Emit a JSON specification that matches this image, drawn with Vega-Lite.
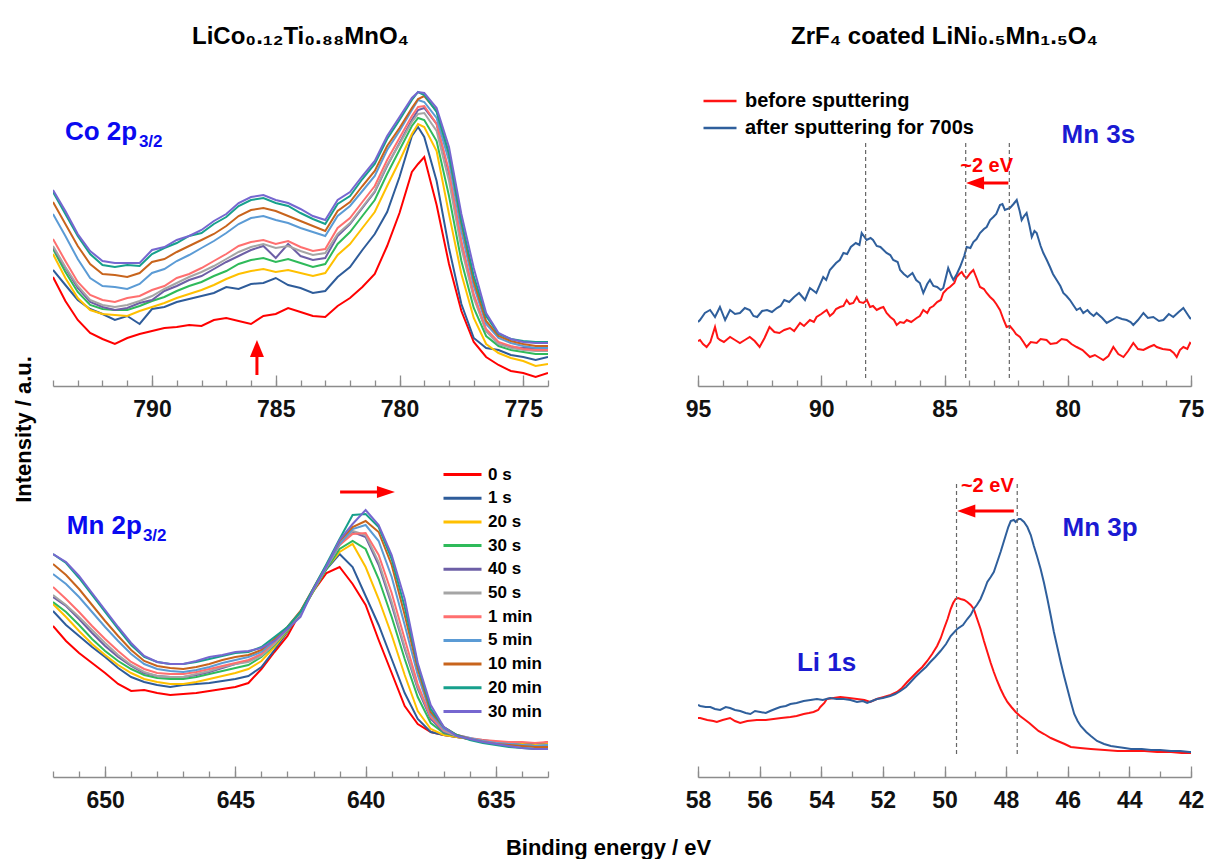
{
"$schema":"https://vega.github.io/schema/vega-lite/v6.json",
"padding":{"left":13,"top":25,"right":0,"bottom":0},
"config":{"font":"Liberation Sans","view":{"stroke":null},
"axis":{"grid":false,"domainColor":"#8c8c8c","domainWidth":1.6,"tickColor":"#8c8c8c","tickWidth":1.3,"labelFont":"Liberation Sans","labelFontSize":23,"labelFontWeight":"bold","labelColor":"#111","title":null,"labelOverlap":false,"labelFlush":false},
"legend":{"labelFont":"Liberation Sans","labelLimit":400},
"title":{"font":"Liberation Sans","fontWeight":"bold","color":"#000","fontSize":22}},
"datasets":{
"co":[
{"s":"0 s","e":794,"v":109},{"s":"0 s","e":793.5,"v":85},{"s":"0 s","e":793,"v":66},{"s":"0 s","e":792.5,"v":53},{"s":"0 s","e":792,"v":47},{"s":"0 s","e":791.5,"v":42},{"s":"0 s","e":791,"v":48},{"s":"0 s","e":790.5,"v":52},{"s":"0 s","e":790,"v":55},{"s":"0 s","e":789.5,"v":58},{"s":"0 s","e":789,"v":59},{"s":"0 s","e":788.5,"v":61},{"s":"0 s","e":788,"v":60},{"s":"0 s","e":787.5,"v":66},{"s":"0 s","e":787,"v":68},{"s":"0 s","e":786.5,"v":65},{"s":"0 s","e":786,"v":62},{"s":"0 s","e":785.5,"v":70},{"s":"0 s","e":785,"v":72},{"s":"0 s","e":784.5,"v":78},{"s":"0 s","e":784,"v":74},{"s":"0 s","e":783.5,"v":70},{"s":"0 s","e":783,"v":69},{"s":"0 s","e":782.5,"v":80},{"s":"0 s","e":782,"v":88},{"s":"0 s","e":781.5,"v":99},{"s":"0 s","e":781,"v":112},{"s":"0 s","e":780.5,"v":140},{"s":"0 s","e":780,"v":173},{"s":"0 s","e":779.5,"v":214},{"s":"0 s","e":779.25,"v":222},{"s":"0 s","e":779,"v":229},{"s":"0 s","e":778.5,"v":181},{"s":"0 s","e":778,"v":122},{"s":"0 s","e":777.5,"v":75},{"s":"0 s","e":777,"v":44},{"s":"0 s","e":776.5,"v":29},{"s":"0 s","e":776,"v":21},{"s":"0 s","e":775.5,"v":15},{"s":"0 s","e":775,"v":13},{"s":"0 s","e":774.5,"v":9},{"s":"0 s","e":774,"v":13},
{"s":"1 s","e":794,"v":116},{"s":"1 s","e":793.5,"v":101},{"s":"1 s","e":793,"v":86},{"s":"1 s","e":792.5,"v":77},{"s":"1 s","e":792,"v":72},{"s":"1 s","e":791.5,"v":66},{"s":"1 s","e":791,"v":70},{"s":"1 s","e":790.5,"v":62},{"s":"1 s","e":790,"v":77},{"s":"1 s","e":789.5,"v":79},{"s":"1 s","e":789,"v":84},{"s":"1 s","e":788.5,"v":87},{"s":"1 s","e":788,"v":90},{"s":"1 s","e":787.5,"v":93},{"s":"1 s","e":787,"v":99},{"s":"1 s","e":786.5,"v":97},{"s":"1 s","e":786,"v":102},{"s":"1 s","e":785.5,"v":103},{"s":"1 s","e":785,"v":108},{"s":"1 s","e":784.5,"v":101},{"s":"1 s","e":784,"v":98},{"s":"1 s","e":783.5,"v":93},{"s":"1 s","e":783,"v":95},{"s":"1 s","e":782.5,"v":109},{"s":"1 s","e":782,"v":119},{"s":"1 s","e":781.5,"v":136},{"s":"1 s","e":781,"v":152},{"s":"1 s","e":780.5,"v":174},{"s":"1 s","e":780,"v":209},{"s":"1 s","e":779.5,"v":250},{"s":"1 s","e":779.25,"v":259},{"s":"1 s","e":779,"v":249},{"s":"1 s","e":778.5,"v":205},{"s":"1 s","e":778,"v":138},{"s":"1 s","e":777.5,"v":82},{"s":"1 s","e":777,"v":48},{"s":"1 s","e":776.5,"v":38},{"s":"1 s","e":776,"v":36},{"s":"1 s","e":775.5,"v":31},{"s":"1 s","e":775,"v":29},{"s":"1 s","e":774.5,"v":26},{"s":"1 s","e":774,"v":29},
{"s":"20 s","e":794,"v":132},{"s":"20 s","e":793.5,"v":108},{"s":"20 s","e":793,"v":88},{"s":"20 s","e":792.5,"v":76},{"s":"20 s","e":792,"v":72},{"s":"20 s","e":791.5,"v":71},{"s":"20 s","e":791,"v":70},{"s":"20 s","e":790.5,"v":75},{"s":"20 s","e":790,"v":79},{"s":"20 s","e":789.5,"v":83},{"s":"20 s","e":789,"v":88},{"s":"20 s","e":788.5,"v":92},{"s":"20 s","e":788,"v":96},{"s":"20 s","e":787.5,"v":101},{"s":"20 s","e":787,"v":107},{"s":"20 s","e":786.5,"v":112},{"s":"20 s","e":786,"v":115},{"s":"20 s","e":785.5,"v":117},{"s":"20 s","e":785,"v":114},{"s":"20 s","e":784.5,"v":116},{"s":"20 s","e":784,"v":113},{"s":"20 s","e":783.5,"v":110},{"s":"20 s","e":783,"v":113},{"s":"20 s","e":782.5,"v":131},{"s":"20 s","e":782,"v":142},{"s":"20 s","e":781.5,"v":158},{"s":"20 s","e":781,"v":174},{"s":"20 s","e":780.5,"v":200},{"s":"20 s","e":780,"v":225},{"s":"20 s","e":779.5,"v":252},{"s":"20 s","e":779.25,"v":262},{"s":"20 s","e":779,"v":259},{"s":"20 s","e":778.5,"v":235},{"s":"20 s","e":778,"v":172},{"s":"20 s","e":777.5,"v":112},{"s":"20 s","e":777,"v":68},{"s":"20 s","e":776.5,"v":42},{"s":"20 s","e":776,"v":33},{"s":"20 s","e":775.5,"v":28},{"s":"20 s","e":775,"v":25},{"s":"20 s","e":774.5,"v":20},{"s":"20 s","e":774,"v":22},
{"s":"30 s","e":794,"v":137},{"s":"30 s","e":793.5,"v":114},{"s":"30 s","e":793,"v":94},{"s":"30 s","e":792.5,"v":81},{"s":"30 s","e":792,"v":77},{"s":"30 s","e":791.5,"v":76},{"s":"30 s","e":791,"v":76},{"s":"30 s","e":790.5,"v":80},{"s":"30 s","e":790,"v":85},{"s":"30 s","e":789.5,"v":89},{"s":"30 s","e":789,"v":95},{"s":"30 s","e":788.5,"v":100},{"s":"30 s","e":788,"v":104},{"s":"30 s","e":787.5,"v":110},{"s":"30 s","e":787,"v":115},{"s":"30 s","e":786.5,"v":122},{"s":"30 s","e":786,"v":126},{"s":"30 s","e":785.5,"v":128},{"s":"30 s","e":785,"v":124},{"s":"30 s","e":784.5,"v":127},{"s":"30 s","e":784,"v":123},{"s":"30 s","e":783.5,"v":119},{"s":"30 s","e":783,"v":122},{"s":"30 s","e":782.5,"v":142},{"s":"30 s","e":782,"v":154},{"s":"30 s","e":781.5,"v":170},{"s":"30 s","e":781,"v":186},{"s":"30 s","e":780.5,"v":212},{"s":"30 s","e":780,"v":236},{"s":"30 s","e":779.5,"v":260},{"s":"30 s","e":779.25,"v":268},{"s":"30 s","e":779,"v":266},{"s":"30 s","e":778.5,"v":245},{"s":"30 s","e":778,"v":190},{"s":"30 s","e":777.5,"v":125},{"s":"30 s","e":777,"v":78},{"s":"30 s","e":776.5,"v":50},{"s":"30 s","e":776,"v":40},{"s":"30 s","e":775.5,"v":36},{"s":"30 s","e":775,"v":34},{"s":"30 s","e":774.5,"v":32},{"s":"30 s","e":774,"v":32},
{"s":"40 s","e":794,"v":139},{"s":"40 s","e":793.5,"v":118},{"s":"40 s","e":793,"v":98},{"s":"40 s","e":792.5,"v":84},{"s":"40 s","e":792,"v":79},{"s":"40 s","e":791.5,"v":76},{"s":"40 s","e":791,"v":78},{"s":"40 s","e":790.5,"v":83},{"s":"40 s","e":790,"v":86},{"s":"40 s","e":789.5,"v":95},{"s":"40 s","e":789,"v":100},{"s":"40 s","e":788.5,"v":106},{"s":"40 s","e":788,"v":110},{"s":"40 s","e":787.5,"v":117},{"s":"40 s","e":787,"v":124},{"s":"40 s","e":786.5,"v":130},{"s":"40 s","e":786,"v":136},{"s":"40 s","e":785.5,"v":140},{"s":"40 s","e":785,"v":128},{"s":"40 s","e":784.5,"v":142},{"s":"40 s","e":784,"v":130},{"s":"40 s","e":783.5,"v":126},{"s":"40 s","e":783,"v":128},{"s":"40 s","e":782.5,"v":150},{"s":"40 s","e":782,"v":162},{"s":"40 s","e":781.5,"v":178},{"s":"40 s","e":781,"v":194},{"s":"40 s","e":780.5,"v":220},{"s":"40 s","e":780,"v":243},{"s":"40 s","e":779.5,"v":266},{"s":"40 s","e":779.25,"v":276},{"s":"40 s","e":779,"v":278},{"s":"40 s","e":778.5,"v":262},{"s":"40 s","e":778,"v":212},{"s":"40 s","e":777.5,"v":142},{"s":"40 s","e":777,"v":90},{"s":"40 s","e":776.5,"v":55},{"s":"40 s","e":776,"v":42},{"s":"40 s","e":775.5,"v":39},{"s":"40 s","e":775,"v":38},{"s":"40 s","e":774.5,"v":38},{"s":"40 s","e":774,"v":38},
{"s":"50 s","e":794,"v":140},{"s":"50 s","e":793.5,"v":119},{"s":"50 s","e":793,"v":100},{"s":"50 s","e":792.5,"v":86},{"s":"50 s","e":792,"v":81},{"s":"50 s","e":791.5,"v":79},{"s":"50 s","e":791,"v":81},{"s":"50 s","e":790.5,"v":85},{"s":"50 s","e":790,"v":90},{"s":"50 s","e":789.5,"v":97},{"s":"50 s","e":789,"v":103},{"s":"50 s","e":788.5,"v":109},{"s":"50 s","e":788,"v":114},{"s":"50 s","e":787.5,"v":120},{"s":"50 s","e":787,"v":127},{"s":"50 s","e":786.5,"v":134},{"s":"50 s","e":786,"v":139},{"s":"50 s","e":785.5,"v":142},{"s":"50 s","e":785,"v":138},{"s":"50 s","e":784.5,"v":140},{"s":"50 s","e":784,"v":135},{"s":"50 s","e":783.5,"v":131},{"s":"50 s","e":783,"v":133},{"s":"50 s","e":782.5,"v":152},{"s":"50 s","e":782,"v":163},{"s":"50 s","e":781.5,"v":179},{"s":"50 s","e":781,"v":195},{"s":"50 s","e":780.5,"v":221},{"s":"50 s","e":780,"v":242},{"s":"50 s","e":779.5,"v":264},{"s":"50 s","e":779.25,"v":272},{"s":"50 s","e":779,"v":273},{"s":"50 s","e":778.5,"v":255},{"s":"50 s","e":778,"v":205},{"s":"50 s","e":777.5,"v":138},{"s":"50 s","e":777,"v":88},{"s":"50 s","e":776.5,"v":55},{"s":"50 s","e":776,"v":42},{"s":"50 s","e":775.5,"v":38},{"s":"50 s","e":775,"v":36},{"s":"50 s","e":774.5,"v":35},{"s":"50 s","e":774,"v":35},
{"s":"1 min","e":794,"v":147},{"s":"1 min","e":793.5,"v":125},{"s":"1 min","e":793,"v":104},{"s":"1 min","e":792.5,"v":91},{"s":"1 min","e":792,"v":86},{"s":"1 min","e":791.5,"v":84},{"s":"1 min","e":791,"v":88},{"s":"1 min","e":790.5,"v":90},{"s":"1 min","e":790,"v":96},{"s":"1 min","e":789.5,"v":100},{"s":"1 min","e":789,"v":108},{"s":"1 min","e":788.5,"v":112},{"s":"1 min","e":788,"v":118},{"s":"1 min","e":787.5,"v":125},{"s":"1 min","e":787,"v":132},{"s":"1 min","e":786.5,"v":140},{"s":"1 min","e":786,"v":144},{"s":"1 min","e":785.5,"v":146},{"s":"1 min","e":785,"v":142},{"s":"1 min","e":784.5,"v":145},{"s":"1 min","e":784,"v":139},{"s":"1 min","e":783.5,"v":135},{"s":"1 min","e":783,"v":137},{"s":"1 min","e":782.5,"v":158},{"s":"1 min","e":782,"v":168},{"s":"1 min","e":781.5,"v":184},{"s":"1 min","e":781,"v":200},{"s":"1 min","e":780.5,"v":226},{"s":"1 min","e":780,"v":248},{"s":"1 min","e":779.5,"v":270},{"s":"1 min","e":779.25,"v":279},{"s":"1 min","e":779,"v":280},{"s":"1 min","e":778.5,"v":262},{"s":"1 min","e":778,"v":215},{"s":"1 min","e":777.5,"v":145},{"s":"1 min","e":777,"v":92},{"s":"1 min","e":776.5,"v":57},{"s":"1 min","e":776,"v":44},{"s":"1 min","e":775.5,"v":40},{"s":"1 min","e":775,"v":37},{"s":"1 min","e":774.5,"v":36},{"s":"1 min","e":774,"v":36},
{"s":"5 min","e":794,"v":172},{"s":"5 min","e":793.5,"v":150},{"s":"5 min","e":793,"v":127},{"s":"5 min","e":792.5,"v":108},{"s":"5 min","e":792,"v":100},{"s":"5 min","e":791.5,"v":99},{"s":"5 min","e":791,"v":97},{"s":"5 min","e":790.5,"v":102},{"s":"5 min","e":790,"v":113},{"s":"5 min","e":789.5,"v":117},{"s":"5 min","e":789,"v":125},{"s":"5 min","e":788.5,"v":131},{"s":"5 min","e":788,"v":138},{"s":"5 min","e":787.5,"v":145},{"s":"5 min","e":787,"v":153},{"s":"5 min","e":786.5,"v":162},{"s":"5 min","e":786,"v":168},{"s":"5 min","e":785.5,"v":170},{"s":"5 min","e":785,"v":166},{"s":"5 min","e":784.5,"v":163},{"s":"5 min","e":784,"v":158},{"s":"5 min","e":783.5,"v":154},{"s":"5 min","e":783,"v":150},{"s":"5 min","e":782.5,"v":170},{"s":"5 min","e":782,"v":180},{"s":"5 min","e":781.5,"v":195},{"s":"5 min","e":781,"v":210},{"s":"5 min","e":780.5,"v":236},{"s":"5 min","e":780,"v":255},{"s":"5 min","e":779.5,"v":276},{"s":"5 min","e":779.25,"v":286},{"s":"5 min","e":779,"v":284},{"s":"5 min","e":778.5,"v":268},{"s":"5 min","e":778,"v":225},{"s":"5 min","e":777.5,"v":155},{"s":"5 min","e":777,"v":100},{"s":"5 min","e":776.5,"v":62},{"s":"5 min","e":776,"v":48},{"s":"5 min","e":775.5,"v":43},{"s":"5 min","e":775,"v":40},{"s":"5 min","e":774.5,"v":38},{"s":"5 min","e":774,"v":38},
{"s":"10 min","e":794,"v":184},{"s":"10 min","e":793.5,"v":162},{"s":"10 min","e":793,"v":140},{"s":"10 min","e":792.5,"v":122},{"s":"10 min","e":792,"v":112},{"s":"10 min","e":791.5,"v":111},{"s":"10 min","e":791,"v":109},{"s":"10 min","e":790.5,"v":113},{"s":"10 min","e":790,"v":124},{"s":"10 min","e":789.5,"v":127},{"s":"10 min","e":789,"v":134},{"s":"10 min","e":788.5,"v":140},{"s":"10 min","e":788,"v":146},{"s":"10 min","e":787.5,"v":152},{"s":"10 min","e":787,"v":160},{"s":"10 min","e":786.5,"v":170},{"s":"10 min","e":786,"v":176},{"s":"10 min","e":785.5,"v":178},{"s":"10 min","e":785,"v":175},{"s":"10 min","e":784.5,"v":170},{"s":"10 min","e":784,"v":165},{"s":"10 min","e":783.5,"v":160},{"s":"10 min","e":783,"v":155},{"s":"10 min","e":782.5,"v":175},{"s":"10 min","e":782,"v":184},{"s":"10 min","e":781.5,"v":200},{"s":"10 min","e":781,"v":215},{"s":"10 min","e":780.5,"v":240},{"s":"10 min","e":780,"v":258},{"s":"10 min","e":779.5,"v":278},{"s":"10 min","e":779.25,"v":287},{"s":"10 min","e":779,"v":290},{"s":"10 min","e":778.5,"v":275},{"s":"10 min","e":778,"v":232},{"s":"10 min","e":777.5,"v":163},{"s":"10 min","e":777,"v":105},{"s":"10 min","e":776.5,"v":65},{"s":"10 min","e":776,"v":50},{"s":"10 min","e":775.5,"v":45},{"s":"10 min","e":775,"v":42},{"s":"10 min","e":774.5,"v":40},{"s":"10 min","e":774,"v":40},
{"s":"20 min","e":794,"v":194},{"s":"20 min","e":793.5,"v":172},{"s":"20 min","e":793,"v":150},{"s":"20 min","e":792.5,"v":132},{"s":"20 min","e":792,"v":121},{"s":"20 min","e":791.5,"v":119},{"s":"20 min","e":791,"v":121},{"s":"20 min","e":790.5,"v":120},{"s":"20 min","e":790,"v":132},{"s":"20 min","e":789.5,"v":138},{"s":"20 min","e":789,"v":143},{"s":"20 min","e":788.5,"v":150},{"s":"20 min","e":788,"v":153},{"s":"20 min","e":787.5,"v":162},{"s":"20 min","e":787,"v":169},{"s":"20 min","e":786.5,"v":180},{"s":"20 min","e":786,"v":186},{"s":"20 min","e":785.5,"v":188},{"s":"20 min","e":785,"v":183},{"s":"20 min","e":784.5,"v":180},{"s":"20 min","e":784,"v":173},{"s":"20 min","e":783.5,"v":167},{"s":"20 min","e":783,"v":162},{"s":"20 min","e":782.5,"v":182},{"s":"20 min","e":782,"v":190},{"s":"20 min","e":781.5,"v":207},{"s":"20 min","e":781,"v":222},{"s":"20 min","e":780.5,"v":247},{"s":"20 min","e":780,"v":266},{"s":"20 min","e":779.5,"v":286},{"s":"20 min","e":779.25,"v":294},{"s":"20 min","e":779,"v":291},{"s":"20 min","e":778.5,"v":274},{"s":"20 min","e":778,"v":232},{"s":"20 min","e":777.5,"v":165},{"s":"20 min","e":777,"v":110},{"s":"20 min","e":776.5,"v":70},{"s":"20 min","e":776,"v":52},{"s":"20 min","e":775.5,"v":47},{"s":"20 min","e":775,"v":45},{"s":"20 min","e":774.5,"v":44},{"s":"20 min","e":774,"v":44},
{"s":"30 min","e":794,"v":196},{"s":"30 min","e":793.5,"v":175},{"s":"30 min","e":793,"v":152},{"s":"30 min","e":792.5,"v":135},{"s":"30 min","e":792,"v":125},{"s":"30 min","e":791.5,"v":123},{"s":"30 min","e":791,"v":123},{"s":"30 min","e":790.5,"v":123},{"s":"30 min","e":790,"v":136},{"s":"30 min","e":789.5,"v":139},{"s":"30 min","e":789,"v":146},{"s":"30 min","e":788.5,"v":150},{"s":"30 min","e":788,"v":156},{"s":"30 min","e":787.5,"v":165},{"s":"30 min","e":787,"v":172},{"s":"30 min","e":786.5,"v":183},{"s":"30 min","e":786,"v":189},{"s":"30 min","e":785.5,"v":191},{"s":"30 min","e":785,"v":186},{"s":"30 min","e":784.5,"v":183},{"s":"30 min","e":784,"v":177},{"s":"30 min","e":783.5,"v":170},{"s":"30 min","e":783,"v":166},{"s":"30 min","e":782.5,"v":186},{"s":"30 min","e":782,"v":194},{"s":"30 min","e":781.5,"v":210},{"s":"30 min","e":781,"v":225},{"s":"30 min","e":780.5,"v":250},{"s":"30 min","e":780,"v":269},{"s":"30 min","e":779.5,"v":288},{"s":"30 min","e":779.25,"v":294},{"s":"30 min","e":779,"v":293},{"s":"30 min","e":778.5,"v":278},{"s":"30 min","e":778,"v":239},{"s":"30 min","e":777.5,"v":172},{"s":"30 min","e":777,"v":118},{"s":"30 min","e":776.5,"v":73},{"s":"30 min","e":776,"v":53},{"s":"30 min","e":775.5,"v":47},{"s":"30 min","e":775,"v":44},{"s":"30 min","e":774.5,"v":43},{"s":"30 min","e":774,"v":43}
],
"mn2p":[
{"s":"0 s","e":652,"v":151},{"s":"0 s","e":651.5,"v":136},{"s":"0 s","e":651,"v":124},{"s":"0 s","e":650.5,"v":114},{"s":"0 s","e":650,"v":104},{"s":"0 s","e":649.5,"v":93},{"s":"0 s","e":649,"v":86},{"s":"0 s","e":648.5,"v":87},{"s":"0 s","e":648,"v":84},{"s":"0 s","e":647.5,"v":82},{"s":"0 s","e":647,"v":83},{"s":"0 s","e":646.5,"v":84},{"s":"0 s","e":646,"v":86},{"s":"0 s","e":645.5,"v":88},{"s":"0 s","e":645,"v":90},{"s":"0 s","e":644.5,"v":94},{"s":"0 s","e":644,"v":108},{"s":"0 s","e":643.5,"v":125},{"s":"0 s","e":643,"v":141},{"s":"0 s","e":642.5,"v":165},{"s":"0 s","e":642,"v":186},{"s":"0 s","e":641.5,"v":204},{"s":"0 s","e":641,"v":210},{"s":"0 s","e":640.5,"v":193},{"s":"0 s","e":640,"v":172},{"s":"0 s","e":639.5,"v":137},{"s":"0 s","e":639,"v":104},{"s":"0 s","e":638.5,"v":71},{"s":"0 s","e":638,"v":53},{"s":"0 s","e":637.5,"v":45},{"s":"0 s","e":637,"v":42},{"s":"0 s","e":636.5,"v":40},{"s":"0 s","e":636,"v":38},{"s":"0 s","e":635.5,"v":36},{"s":"0 s","e":635,"v":34},{"s":"0 s","e":634.5,"v":33},{"s":"0 s","e":634,"v":34},{"s":"0 s","e":633.5,"v":32},{"s":"0 s","e":633,"v":35},
{"s":"1 s","e":652,"v":166},{"s":"1 s","e":651.5,"v":152},{"s":"1 s","e":651,"v":141},{"s":"1 s","e":650.5,"v":130},{"s":"1 s","e":650,"v":120},{"s":"1 s","e":649.5,"v":109},{"s":"1 s","e":649,"v":100},{"s":"1 s","e":648.5,"v":95},{"s":"1 s","e":648,"v":92},{"s":"1 s","e":647.5,"v":90},{"s":"1 s","e":647,"v":92},{"s":"1 s","e":646.5,"v":93},{"s":"1 s","e":646,"v":94},{"s":"1 s","e":645.5,"v":96},{"s":"1 s","e":645,"v":98},{"s":"1 s","e":644.5,"v":101},{"s":"1 s","e":644,"v":110},{"s":"1 s","e":643.5,"v":127},{"s":"1 s","e":643,"v":145},{"s":"1 s","e":642.5,"v":165},{"s":"1 s","e":642,"v":188},{"s":"1 s","e":641.5,"v":208},{"s":"1 s","e":641,"v":223},{"s":"1 s","e":640.5,"v":210},{"s":"1 s","e":640,"v":181},{"s":"1 s","e":639.5,"v":152},{"s":"1 s","e":639,"v":118},{"s":"1 s","e":638.5,"v":84},{"s":"1 s","e":638,"v":58},{"s":"1 s","e":637.5,"v":45},{"s":"1 s","e":637,"v":42},{"s":"1 s","e":636.5,"v":40},{"s":"1 s","e":636,"v":38},{"s":"1 s","e":635.5,"v":37},{"s":"1 s","e":635,"v":35},{"s":"1 s","e":634.5,"v":34},{"s":"1 s","e":634,"v":34},{"s":"1 s","e":633.5,"v":33},{"s":"1 s","e":633,"v":33},
{"s":"20 s","e":652,"v":173},{"s":"20 s","e":651.5,"v":160},{"s":"20 s","e":651,"v":146},{"s":"20 s","e":650.5,"v":133},{"s":"20 s","e":650,"v":122},{"s":"20 s","e":649.5,"v":112},{"s":"20 s","e":649,"v":104},{"s":"20 s","e":648.5,"v":98},{"s":"20 s","e":648,"v":95},{"s":"20 s","e":647.5,"v":93},{"s":"20 s","e":647,"v":93},{"s":"20 s","e":646.5,"v":95},{"s":"20 s","e":646,"v":98},{"s":"20 s","e":645.5,"v":101},{"s":"20 s","e":645,"v":104},{"s":"20 s","e":644.5,"v":108},{"s":"20 s","e":644,"v":116},{"s":"20 s","e":643.5,"v":130},{"s":"20 s","e":643,"v":146},{"s":"20 s","e":642.5,"v":164},{"s":"20 s","e":642,"v":186},{"s":"20 s","e":641.5,"v":209},{"s":"20 s","e":641,"v":225},{"s":"20 s","e":640.5,"v":233},{"s":"20 s","e":640,"v":210},{"s":"20 s","e":639.5,"v":178},{"s":"20 s","e":639,"v":142},{"s":"20 s","e":638.5,"v":102},{"s":"20 s","e":638,"v":66},{"s":"20 s","e":637.5,"v":48},{"s":"20 s","e":637,"v":42},{"s":"20 s","e":636.5,"v":40},{"s":"20 s","e":636,"v":38},{"s":"20 s","e":635.5,"v":36},{"s":"20 s","e":635,"v":35},{"s":"20 s","e":634.5,"v":34},{"s":"20 s","e":634,"v":33},{"s":"20 s","e":633.5,"v":32},{"s":"20 s","e":633,"v":33},
{"s":"30 s","e":652,"v":175},{"s":"30 s","e":651.5,"v":165},{"s":"30 s","e":651,"v":152},{"s":"30 s","e":650.5,"v":138},{"s":"30 s","e":650,"v":126},{"s":"30 s","e":649.5,"v":116},{"s":"30 s","e":649,"v":108},{"s":"30 s","e":648.5,"v":102},{"s":"30 s","e":648,"v":99},{"s":"30 s","e":647.5,"v":98},{"s":"30 s","e":647,"v":98},{"s":"30 s","e":646.5,"v":100},{"s":"30 s","e":646,"v":103},{"s":"30 s","e":645.5,"v":106},{"s":"30 s","e":645,"v":109},{"s":"30 s","e":644.5,"v":112},{"s":"30 s","e":644,"v":120},{"s":"30 s","e":643.5,"v":132},{"s":"30 s","e":643,"v":147},{"s":"30 s","e":642.5,"v":163},{"s":"30 s","e":642,"v":186},{"s":"30 s","e":641.5,"v":208},{"s":"30 s","e":641,"v":228},{"s":"30 s","e":640.5,"v":236},{"s":"30 s","e":640,"v":228},{"s":"30 s","e":639.5,"v":198},{"s":"30 s","e":639,"v":160},{"s":"30 s","e":638.5,"v":118},{"s":"30 s","e":638,"v":80},{"s":"30 s","e":637.5,"v":54},{"s":"30 s","e":637,"v":44},{"s":"30 s","e":636.5,"v":41},{"s":"30 s","e":636,"v":38},{"s":"30 s","e":635.5,"v":36},{"s":"30 s","e":635,"v":34},{"s":"30 s","e":634.5,"v":33},{"s":"30 s","e":634,"v":32},{"s":"30 s","e":633.5,"v":31},{"s":"30 s","e":633,"v":31},
{"s":"40 s","e":652,"v":180},{"s":"40 s","e":651.5,"v":171},{"s":"40 s","e":651,"v":158},{"s":"40 s","e":650.5,"v":144},{"s":"40 s","e":650,"v":131},{"s":"40 s","e":649.5,"v":120},{"s":"40 s","e":649,"v":111},{"s":"40 s","e":648.5,"v":104},{"s":"40 s","e":648,"v":101},{"s":"40 s","e":647.5,"v":100},{"s":"40 s","e":647,"v":100},{"s":"40 s","e":646.5,"v":102},{"s":"40 s","e":646,"v":105},{"s":"40 s","e":645.5,"v":109},{"s":"40 s","e":645,"v":113},{"s":"40 s","e":644.5,"v":116},{"s":"40 s","e":644,"v":122},{"s":"40 s","e":643.5,"v":134},{"s":"40 s","e":643,"v":148},{"s":"40 s","e":642.5,"v":164},{"s":"40 s","e":642,"v":188},{"s":"40 s","e":641.5,"v":210},{"s":"40 s","e":641,"v":233},{"s":"40 s","e":640.5,"v":245},{"s":"40 s","e":640,"v":240},{"s":"40 s","e":639.5,"v":212},{"s":"40 s","e":639,"v":172},{"s":"40 s","e":638.5,"v":128},{"s":"40 s","e":638,"v":88},{"s":"40 s","e":637.5,"v":58},{"s":"40 s","e":637,"v":45},{"s":"40 s","e":636.5,"v":41},{"s":"40 s","e":636,"v":38},{"s":"40 s","e":635.5,"v":36},{"s":"40 s","e":635,"v":34},{"s":"40 s","e":634.5,"v":33},{"s":"40 s","e":634,"v":32},{"s":"40 s","e":633.5,"v":31},{"s":"40 s","e":633,"v":31},
{"s":"50 s","e":652,"v":182},{"s":"50 s","e":651.5,"v":172},{"s":"50 s","e":651,"v":160},{"s":"50 s","e":650.5,"v":147},{"s":"50 s","e":650,"v":134},{"s":"50 s","e":649.5,"v":122},{"s":"50 s","e":649,"v":112},{"s":"50 s","e":648.5,"v":105},{"s":"50 s","e":648,"v":101},{"s":"50 s","e":647.5,"v":100},{"s":"50 s","e":647,"v":100},{"s":"50 s","e":646.5,"v":103},{"s":"50 s","e":646,"v":106},{"s":"50 s","e":645.5,"v":110},{"s":"50 s","e":645,"v":113},{"s":"50 s","e":644.5,"v":115},{"s":"50 s","e":644,"v":121},{"s":"50 s","e":643.5,"v":133},{"s":"50 s","e":643,"v":148},{"s":"50 s","e":642.5,"v":164},{"s":"50 s","e":642,"v":187},{"s":"50 s","e":641.5,"v":210},{"s":"50 s","e":641,"v":232},{"s":"50 s","e":640.5,"v":246},{"s":"50 s","e":640,"v":242},{"s":"50 s","e":639.5,"v":215},{"s":"50 s","e":639,"v":175},{"s":"50 s","e":638.5,"v":130},{"s":"50 s","e":638,"v":90},{"s":"50 s","e":637.5,"v":60},{"s":"50 s","e":637,"v":46},{"s":"50 s","e":636.5,"v":41},{"s":"50 s","e":636,"v":38},{"s":"50 s","e":635.5,"v":36},{"s":"50 s","e":635,"v":35},{"s":"50 s","e":634.5,"v":33},{"s":"50 s","e":634,"v":32},{"s":"50 s","e":633.5,"v":31},{"s":"50 s","e":633,"v":32},
{"s":"1 min","e":652,"v":190},{"s":"1 min","e":651.5,"v":178},{"s":"1 min","e":651,"v":165},{"s":"1 min","e":650.5,"v":151},{"s":"1 min","e":650,"v":138},{"s":"1 min","e":649.5,"v":126},{"s":"1 min","e":649,"v":115},{"s":"1 min","e":648.5,"v":108},{"s":"1 min","e":648,"v":104},{"s":"1 min","e":647.5,"v":103},{"s":"1 min","e":647,"v":103},{"s":"1 min","e":646.5,"v":105},{"s":"1 min","e":646,"v":108},{"s":"1 min","e":645.5,"v":111},{"s":"1 min","e":645,"v":114},{"s":"1 min","e":644.5,"v":117},{"s":"1 min","e":644,"v":123},{"s":"1 min","e":643.5,"v":135},{"s":"1 min","e":643,"v":149},{"s":"1 min","e":642.5,"v":165},{"s":"1 min","e":642,"v":188},{"s":"1 min","e":641.5,"v":210},{"s":"1 min","e":641,"v":232},{"s":"1 min","e":640.5,"v":243},{"s":"1 min","e":640,"v":244},{"s":"1 min","e":639.5,"v":222},{"s":"1 min","e":639,"v":184},{"s":"1 min","e":638.5,"v":138},{"s":"1 min","e":638,"v":93},{"s":"1 min","e":637.5,"v":60},{"s":"1 min","e":637,"v":47},{"s":"1 min","e":636.5,"v":42},{"s":"1 min","e":636,"v":39},{"s":"1 min","e":635.5,"v":37},{"s":"1 min","e":635,"v":36},{"s":"1 min","e":634.5,"v":35},{"s":"1 min","e":634,"v":35},{"s":"1 min","e":633.5,"v":34},{"s":"1 min","e":633,"v":35},
{"s":"5 min","e":652,"v":203},{"s":"5 min","e":651.5,"v":193},{"s":"5 min","e":651,"v":180},{"s":"5 min","e":650.5,"v":165},{"s":"5 min","e":650,"v":150},{"s":"5 min","e":649.5,"v":136},{"s":"5 min","e":649,"v":123},{"s":"5 min","e":648.5,"v":113},{"s":"5 min","e":648,"v":108},{"s":"5 min","e":647.5,"v":106},{"s":"5 min","e":647,"v":105},{"s":"5 min","e":646.5,"v":107},{"s":"5 min","e":646,"v":110},{"s":"5 min","e":645.5,"v":114},{"s":"5 min","e":645,"v":117},{"s":"5 min","e":644.5,"v":120},{"s":"5 min","e":644,"v":125},{"s":"5 min","e":643.5,"v":136},{"s":"5 min","e":643,"v":150},{"s":"5 min","e":642.5,"v":165},{"s":"5 min","e":642,"v":188},{"s":"5 min","e":641.5,"v":210},{"s":"5 min","e":641,"v":233},{"s":"5 min","e":640.5,"v":248},{"s":"5 min","e":640,"v":252},{"s":"5 min","e":639.5,"v":236},{"s":"5 min","e":639,"v":200},{"s":"5 min","e":638.5,"v":152},{"s":"5 min","e":638,"v":102},{"s":"5 min","e":637.5,"v":63},{"s":"5 min","e":637,"v":48},{"s":"5 min","e":636.5,"v":42},{"s":"5 min","e":636,"v":39},{"s":"5 min","e":635.5,"v":36},{"s":"5 min","e":635,"v":34},{"s":"5 min","e":634.5,"v":33},{"s":"5 min","e":634,"v":32},{"s":"5 min","e":633.5,"v":31},{"s":"5 min","e":633,"v":32},
{"s":"10 min","e":652,"v":213},{"s":"10 min","e":651.5,"v":202},{"s":"10 min","e":651,"v":188},{"s":"10 min","e":650.5,"v":172},{"s":"10 min","e":650,"v":156},{"s":"10 min","e":649.5,"v":141},{"s":"10 min","e":649,"v":127},{"s":"10 min","e":648.5,"v":116},{"s":"10 min","e":648,"v":111},{"s":"10 min","e":647.5,"v":109},{"s":"10 min","e":647,"v":108},{"s":"10 min","e":646.5,"v":110},{"s":"10 min","e":646,"v":113},{"s":"10 min","e":645.5,"v":117},{"s":"10 min","e":645,"v":120},{"s":"10 min","e":644.5,"v":122},{"s":"10 min","e":644,"v":127},{"s":"10 min","e":643.5,"v":138},{"s":"10 min","e":643,"v":150},{"s":"10 min","e":642.5,"v":166},{"s":"10 min","e":642,"v":189},{"s":"10 min","e":641.5,"v":212},{"s":"10 min","e":641,"v":236},{"s":"10 min","e":640.5,"v":250},{"s":"10 min","e":640,"v":256},{"s":"10 min","e":639.5,"v":245},{"s":"10 min","e":639,"v":212},{"s":"10 min","e":638.5,"v":162},{"s":"10 min","e":638,"v":108},{"s":"10 min","e":637.5,"v":65},{"s":"10 min","e":637,"v":50},{"s":"10 min","e":636.5,"v":42},{"s":"10 min","e":636,"v":38},{"s":"10 min","e":635.5,"v":35},{"s":"10 min","e":635,"v":33},{"s":"10 min","e":634.5,"v":32},{"s":"10 min","e":634,"v":31},{"s":"10 min","e":633.5,"v":30},{"s":"10 min","e":633,"v":30},
{"s":"20 min","e":652,"v":223},{"s":"20 min","e":651.5,"v":214},{"s":"20 min","e":651,"v":199},{"s":"20 min","e":650.5,"v":182},{"s":"20 min","e":650,"v":165},{"s":"20 min","e":649.5,"v":148},{"s":"20 min","e":649,"v":132},{"s":"20 min","e":648.5,"v":120},{"s":"20 min","e":648,"v":115},{"s":"20 min","e":647.5,"v":113},{"s":"20 min","e":647,"v":113},{"s":"20 min","e":646.5,"v":115},{"s":"20 min","e":646,"v":118},{"s":"20 min","e":645.5,"v":121},{"s":"20 min","e":645,"v":124},{"s":"20 min","e":644.5,"v":125},{"s":"20 min","e":644,"v":130},{"s":"20 min","e":643.5,"v":140},{"s":"20 min","e":643,"v":150},{"s":"20 min","e":642.5,"v":165},{"s":"20 min","e":642,"v":189},{"s":"20 min","e":641.5,"v":213},{"s":"20 min","e":641,"v":238},{"s":"20 min","e":640.5,"v":262},{"s":"20 min","e":640,"v":263},{"s":"20 min","e":639.5,"v":250},{"s":"20 min","e":639,"v":218},{"s":"20 min","e":638.5,"v":170},{"s":"20 min","e":638,"v":112},{"s":"20 min","e":637.5,"v":68},{"s":"20 min","e":637,"v":50},{"s":"20 min","e":636.5,"v":42},{"s":"20 min","e":636,"v":37},{"s":"20 min","e":635.5,"v":34},{"s":"20 min","e":635,"v":32},{"s":"20 min","e":634.5,"v":30},{"s":"20 min","e":634,"v":29},{"s":"20 min","e":633.5,"v":28},{"s":"20 min","e":633,"v":28},
{"s":"30 min","e":652,"v":223},{"s":"30 min","e":651.5,"v":215},{"s":"30 min","e":651,"v":201},{"s":"30 min","e":650.5,"v":184},{"s":"30 min","e":650,"v":167},{"s":"30 min","e":649.5,"v":150},{"s":"30 min","e":649,"v":134},{"s":"30 min","e":648.5,"v":121},{"s":"30 min","e":648,"v":115},{"s":"30 min","e":647.5,"v":113},{"s":"30 min","e":647,"v":113},{"s":"30 min","e":646.5,"v":116},{"s":"30 min","e":646,"v":120},{"s":"30 min","e":645.5,"v":122},{"s":"30 min","e":645,"v":125},{"s":"30 min","e":644.5,"v":126},{"s":"30 min","e":644,"v":129},{"s":"30 min","e":643.5,"v":136},{"s":"30 min","e":643,"v":148},{"s":"30 min","e":642.5,"v":160},{"s":"30 min","e":642,"v":188},{"s":"30 min","e":641.5,"v":211},{"s":"30 min","e":641,"v":237},{"s":"30 min","e":640.5,"v":253},{"s":"30 min","e":640,"v":267},{"s":"30 min","e":639.5,"v":252},{"s":"30 min","e":639,"v":222},{"s":"30 min","e":638.5,"v":178},{"s":"30 min","e":638,"v":114},{"s":"30 min","e":637.5,"v":72},{"s":"30 min","e":637,"v":50},{"s":"30 min","e":636.5,"v":41},{"s":"30 min","e":636,"v":38},{"s":"30 min","e":635.5,"v":35},{"s":"30 min","e":635,"v":33},{"s":"30 min","e":634.5,"v":31},{"s":"30 min","e":634,"v":29},{"s":"30 min","e":633.5,"v":28},{"s":"30 min","e":633,"v":28}
],
"mn3s":[
{"s":"before sputtering","e":95,"v":45},{"s":"before sputtering","e":94.92,"v":46},{"s":"before sputtering","e":94.8,"v":42},{"s":"before sputtering","e":94.65,"v":39},{"s":"before sputtering","e":94.5,"v":44},{"s":"before sputtering","e":94.31,"v":59},{"s":"before sputtering","e":94.2,"v":48},{"s":"before sputtering","e":94.11,"v":46},{"s":"before sputtering","e":93.95,"v":44},{"s":"before sputtering","e":93.8,"v":47},{"s":"before sputtering","e":93.7,"v":49},{"s":"before sputtering","e":93.5,"v":46},{"s":"before sputtering","e":93.3,"v":43},{"s":"before sputtering","e":93.1,"v":46},{"s":"before sputtering","e":92.9,"v":49},{"s":"before sputtering","e":92.7,"v":45},{"s":"before sputtering","e":92.5,"v":39},{"s":"before sputtering","e":92.3,"v":48},{"s":"before sputtering","e":92.1,"v":59},{"s":"before sputtering","e":91.9,"v":54},{"s":"before sputtering","e":91.7,"v":53},{"s":"before sputtering","e":91.5,"v":56},{"s":"before sputtering","e":91.27,"v":58},{"s":"before sputtering","e":91.1,"v":55},{"s":"before sputtering","e":90.86,"v":63},{"s":"before sputtering","e":90.7,"v":60},{"s":"before sputtering","e":90.46,"v":66},{"s":"before sputtering","e":90.3,"v":64},{"s":"before sputtering","e":90.19,"v":69},{"s":"before sputtering","e":90,"v":72},{"s":"before sputtering","e":89.78,"v":76},{"s":"before sputtering","e":89.65,"v":70},{"s":"before sputtering","e":89.51,"v":73},{"s":"before sputtering","e":89.4,"v":77},{"s":"before sputtering","e":89.24,"v":79},{"s":"before sputtering","e":89.1,"v":80},{"s":"before sputtering","e":88.97,"v":86},{"s":"before sputtering","e":88.85,"v":82},{"s":"before sputtering","e":88.7,"v":83},{"s":"before sputtering","e":88.56,"v":89},{"s":"before sputtering","e":88.45,"v":84},{"s":"before sputtering","e":88.29,"v":83},{"s":"before sputtering","e":88.15,"v":86},{"s":"before sputtering","e":88.02,"v":79},{"s":"before sputtering","e":87.9,"v":80},{"s":"before sputtering","e":87.75,"v":76},{"s":"before sputtering","e":87.6,"v":78},{"s":"before sputtering","e":87.48,"v":79},{"s":"before sputtering","e":87.35,"v":73},{"s":"before sputtering","e":87.2,"v":69},{"s":"before sputtering","e":87.05,"v":66},{"s":"before sputtering","e":86.94,"v":61},{"s":"before sputtering","e":86.8,"v":64},{"s":"before sputtering","e":86.65,"v":63},{"s":"before sputtering","e":86.53,"v":66},{"s":"before sputtering","e":86.35,"v":64},{"s":"before sputtering","e":86.13,"v":68},{"s":"before sputtering","e":86,"v":70},{"s":"before sputtering","e":85.86,"v":76},{"s":"before sputtering","e":85.7,"v":73},{"s":"before sputtering","e":85.59,"v":78},{"s":"before sputtering","e":85.45,"v":80},{"s":"before sputtering","e":85.3,"v":84},{"s":"before sputtering","e":85.15,"v":86},{"s":"before sputtering","e":85.05,"v":93},{"s":"before sputtering","e":84.9,"v":97},{"s":"before sputtering","e":84.78,"v":99},{"s":"before sputtering","e":84.6,"v":103},{"s":"before sputtering","e":84.51,"v":109},{"s":"before sputtering","e":84.4,"v":112},{"s":"before sputtering","e":84.3,"v":114},{"s":"before sputtering","e":84.2,"v":110},{"s":"before sputtering","e":84.1,"v":108},{"s":"before sputtering","e":83.95,"v":113},{"s":"before sputtering","e":83.83,"v":116},{"s":"before sputtering","e":83.7,"v":108},{"s":"before sputtering","e":83.56,"v":99},{"s":"before sputtering","e":83.4,"v":97},{"s":"before sputtering","e":83.29,"v":93},{"s":"before sputtering","e":83.15,"v":89},{"s":"before sputtering","e":83.02,"v":86},{"s":"before sputtering","e":82.9,"v":82},{"s":"before sputtering","e":82.75,"v":76},{"s":"before sputtering","e":82.6,"v":66},{"s":"before sputtering","e":82.48,"v":59},{"s":"before sputtering","e":82.35,"v":60},{"s":"before sputtering","e":82.21,"v":56},{"s":"before sputtering","e":82.1,"v":52},{"s":"before sputtering","e":81.94,"v":49},{"s":"before sputtering","e":81.8,"v":44},{"s":"before sputtering","e":81.67,"v":39},{"s":"before sputtering","e":81.5,"v":44},{"s":"before sputtering","e":81.26,"v":43},{"s":"before sputtering","e":81.1,"v":47},{"s":"before sputtering","e":80.86,"v":46},{"s":"before sputtering","e":80.7,"v":42},{"s":"before sputtering","e":80.45,"v":43},{"s":"before sputtering","e":80.25,"v":47},{"s":"before sputtering","e":80.04,"v":46},{"s":"before sputtering","e":79.85,"v":42},{"s":"before sputtering","e":79.64,"v":39},{"s":"before sputtering","e":79.4,"v":36},{"s":"before sputtering","e":79.1,"v":29},{"s":"before sputtering","e":78.9,"v":31},{"s":"before sputtering","e":78.7,"v":28},{"s":"before sputtering","e":78.56,"v":26},{"s":"before sputtering","e":78.35,"v":30},{"s":"before sputtering","e":78.15,"v":39},{"s":"before sputtering","e":77.95,"v":32},{"s":"before sputtering","e":77.74,"v":29},{"s":"before sputtering","e":77.55,"v":35},{"s":"before sputtering","e":77.34,"v":43},{"s":"before sputtering","e":77.15,"v":37},{"s":"before sputtering","e":76.93,"v":36},{"s":"before sputtering","e":76.7,"v":39},{"s":"before sputtering","e":76.5,"v":41},{"s":"before sputtering","e":76.39,"v":39},{"s":"before sputtering","e":76.15,"v":37},{"s":"before sputtering","e":75.85,"v":36},{"s":"before sputtering","e":75.7,"v":33},{"s":"before sputtering","e":75.58,"v":29},{"s":"before sputtering","e":75.45,"v":36},{"s":"before sputtering","e":75.31,"v":39},{"s":"before sputtering","e":75.15,"v":37},{"s":"before sputtering","e":75.04,"v":43},{"s":"before sputtering","e":75,"v":42},
{"s":"after sputtering for 700s","e":95,"v":64},{"s":"after sputtering for 700s","e":94.92,"v":66},{"s":"after sputtering for 700s","e":94.72,"v":73},{"s":"after sputtering for 700s","e":94.51,"v":76},{"s":"after sputtering for 700s","e":94.31,"v":69},{"s":"after sputtering for 700s","e":94.11,"v":79},{"s":"after sputtering for 700s","e":93.9,"v":66},{"s":"after sputtering for 700s","e":93.7,"v":76},{"s":"after sputtering for 700s","e":93.5,"v":72},{"s":"after sputtering for 700s","e":93.3,"v":73},{"s":"after sputtering for 700s","e":93.1,"v":78},{"s":"after sputtering for 700s","e":92.9,"v":76},{"s":"after sputtering for 700s","e":92.75,"v":70},{"s":"after sputtering for 700s","e":92.6,"v":69},{"s":"after sputtering for 700s","e":92.4,"v":75},{"s":"after sputtering for 700s","e":92.2,"v":76},{"s":"after sputtering for 700s","e":92,"v":74},{"s":"after sputtering for 700s","e":91.8,"v":78},{"s":"after sputtering for 700s","e":91.65,"v":80},{"s":"after sputtering for 700s","e":91.5,"v":86},{"s":"after sputtering for 700s","e":91.3,"v":84},{"s":"after sputtering for 700s","e":91.1,"v":89},{"s":"after sputtering for 700s","e":90.9,"v":93},{"s":"after sputtering for 700s","e":90.66,"v":86},{"s":"after sputtering for 700s","e":90.46,"v":98},{"s":"after sputtering for 700s","e":90.3,"v":95},{"s":"after sputtering for 700s","e":90.2,"v":93},{"s":"after sputtering for 700s","e":89.92,"v":109},{"s":"after sputtering for 700s","e":89.8,"v":106},{"s":"after sputtering for 700s","e":89.65,"v":116},{"s":"after sputtering for 700s","e":89.4,"v":123},{"s":"after sputtering for 700s","e":89.25,"v":126},{"s":"after sputtering for 700s","e":89.1,"v":133},{"s":"after sputtering for 700s","e":88.95,"v":132},{"s":"after sputtering for 700s","e":88.8,"v":139},{"s":"after sputtering for 700s","e":88.6,"v":143},{"s":"after sputtering for 700s","e":88.45,"v":141},{"s":"after sputtering for 700s","e":88.36,"v":153},{"s":"after sputtering for 700s","e":88.16,"v":146},{"s":"after sputtering for 700s","e":88,"v":148},{"s":"after sputtering for 700s","e":87.9,"v":146},{"s":"after sputtering for 700s","e":87.75,"v":140},{"s":"after sputtering for 700s","e":87.6,"v":139},{"s":"after sputtering for 700s","e":87.35,"v":133},{"s":"after sputtering for 700s","e":87.2,"v":131},{"s":"after sputtering for 700s","e":87.08,"v":126},{"s":"after sputtering for 700s","e":86.9,"v":124},{"s":"after sputtering for 700s","e":86.8,"v":116},{"s":"after sputtering for 700s","e":86.65,"v":112},{"s":"after sputtering for 700s","e":86.5,"v":109},{"s":"after sputtering for 700s","e":86.3,"v":113},{"s":"after sputtering for 700s","e":86.15,"v":106},{"s":"after sputtering for 700s","e":86,"v":103},{"s":"after sputtering for 700s","e":85.86,"v":93},{"s":"after sputtering for 700s","e":85.7,"v":102},{"s":"after sputtering for 700s","e":85.59,"v":106},{"s":"after sputtering for 700s","e":85.45,"v":100},{"s":"after sputtering for 700s","e":85.3,"v":99},{"s":"after sputtering for 700s","e":85.15,"v":96},{"s":"after sputtering for 700s","e":85.05,"v":98},{"s":"after sputtering for 700s","e":84.95,"v":108},{"s":"after sputtering for 700s","e":84.85,"v":118},{"s":"after sputtering for 700s","e":84.72,"v":110},{"s":"after sputtering for 700s","e":84.64,"v":106},{"s":"after sputtering for 700s","e":84.5,"v":112},{"s":"after sputtering for 700s","e":84.37,"v":119},{"s":"after sputtering for 700s","e":84.2,"v":130},{"s":"after sputtering for 700s","e":84.1,"v":139},{"s":"after sputtering for 700s","e":83.95,"v":138},{"s":"after sputtering for 700s","e":83.83,"v":144},{"s":"after sputtering for 700s","e":83.7,"v":147},{"s":"after sputtering for 700s","e":83.56,"v":153},{"s":"after sputtering for 700s","e":83.4,"v":157},{"s":"after sputtering for 700s","e":83.29,"v":159},{"s":"after sputtering for 700s","e":83.15,"v":166},{"s":"after sputtering for 700s","e":83.02,"v":169},{"s":"after sputtering for 700s","e":82.9,"v":172},{"s":"after sputtering for 700s","e":82.75,"v":181},{"s":"after sputtering for 700s","e":82.65,"v":182},{"s":"after sputtering for 700s","e":82.55,"v":176},{"s":"after sputtering for 700s","e":82.34,"v":178},{"s":"after sputtering for 700s","e":82.2,"v":182},{"s":"after sputtering for 700s","e":82.07,"v":186},{"s":"after sputtering for 700s","e":81.95,"v":175},{"s":"after sputtering for 700s","e":81.87,"v":166},{"s":"after sputtering for 700s","e":81.77,"v":170},{"s":"after sputtering for 700s","e":81.67,"v":173},{"s":"after sputtering for 700s","e":81.55,"v":160},{"s":"after sputtering for 700s","e":81.46,"v":149},{"s":"after sputtering for 700s","e":81.35,"v":155},{"s":"after sputtering for 700s","e":81.26,"v":153},{"s":"after sputtering for 700s","e":81.1,"v":140},{"s":"after sputtering for 700s","e":80.99,"v":133},{"s":"after sputtering for 700s","e":80.85,"v":126},{"s":"after sputtering for 700s","e":80.72,"v":119},{"s":"after sputtering for 700s","e":80.6,"v":112},{"s":"after sputtering for 700s","e":80.45,"v":106},{"s":"after sputtering for 700s","e":80.3,"v":100},{"s":"after sputtering for 700s","e":80.18,"v":93},{"s":"after sputtering for 700s","e":80.05,"v":90},{"s":"after sputtering for 700s","e":79.91,"v":86},{"s":"after sputtering for 700s","e":79.75,"v":80},{"s":"after sputtering for 700s","e":79.64,"v":76},{"s":"after sputtering for 700s","e":79.5,"v":78},{"s":"after sputtering for 700s","e":79.37,"v":73},{"s":"after sputtering for 700s","e":79.2,"v":76},{"s":"after sputtering for 700s","e":79.1,"v":73},{"s":"after sputtering for 700s","e":78.95,"v":70},{"s":"after sputtering for 700s","e":78.83,"v":73},{"s":"after sputtering for 700s","e":78.6,"v":68},{"s":"after sputtering for 700s","e":78.42,"v":63},{"s":"after sputtering for 700s","e":78.2,"v":66},{"s":"after sputtering for 700s","e":78.01,"v":69},{"s":"after sputtering for 700s","e":77.8,"v":67},{"s":"after sputtering for 700s","e":77.61,"v":66},{"s":"after sputtering for 700s","e":77.45,"v":64},{"s":"after sputtering for 700s","e":77.34,"v":61},{"s":"after sputtering for 700s","e":77.15,"v":66},{"s":"after sputtering for 700s","e":76.93,"v":73},{"s":"after sputtering for 700s","e":76.75,"v":68},{"s":"after sputtering for 700s","e":76.53,"v":69},{"s":"after sputtering for 700s","e":76.3,"v":65},{"s":"after sputtering for 700s","e":76.12,"v":66},{"s":"after sputtering for 700s","e":75.9,"v":72},{"s":"after sputtering for 700s","e":75.72,"v":69},{"s":"after sputtering for 700s","e":75.5,"v":74},{"s":"after sputtering for 700s","e":75.31,"v":78},{"s":"after sputtering for 700s","e":75.15,"v":72},{"s":"after sputtering for 700s","e":75.04,"v":68},{"s":"after sputtering for 700s","e":75,"v":67}
],
"mn3p":[
{"s":"before sputtering","e":58,"v":59},{"s":"before sputtering","e":57.93,"v":59},{"s":"before sputtering","e":57.7,"v":57},{"s":"before sputtering","e":57.5,"v":56},{"s":"before sputtering","e":57.39,"v":55},{"s":"before sputtering","e":57.2,"v":57},{"s":"before sputtering","e":56.96,"v":59},{"s":"before sputtering","e":56.8,"v":56},{"s":"before sputtering","e":56.63,"v":54},{"s":"before sputtering","e":56.4,"v":56},{"s":"before sputtering","e":56.09,"v":57},{"s":"before sputtering","e":55.8,"v":57},{"s":"before sputtering","e":55.55,"v":58},{"s":"before sputtering","e":55.3,"v":59},{"s":"before sputtering","e":55,"v":60},{"s":"before sputtering","e":54.8,"v":61},{"s":"before sputtering","e":54.57,"v":63},{"s":"before sputtering","e":54.4,"v":64},{"s":"before sputtering","e":54.25,"v":65},{"s":"before sputtering","e":54.1,"v":67},{"s":"before sputtering","e":54.03,"v":70},{"s":"before sputtering","e":53.9,"v":74},{"s":"before sputtering","e":53.82,"v":78},{"s":"before sputtering","e":53.6,"v":79},{"s":"before sputtering","e":53.38,"v":80},{"s":"before sputtering","e":53.1,"v":79},{"s":"before sputtering","e":52.84,"v":78},{"s":"before sputtering","e":52.6,"v":77},{"s":"before sputtering","e":52.41,"v":75},{"s":"before sputtering","e":52.2,"v":78},{"s":"before sputtering","e":51.97,"v":80},{"s":"before sputtering","e":51.75,"v":82},{"s":"before sputtering","e":51.54,"v":85},{"s":"before sputtering","e":51.38,"v":89},{"s":"before sputtering","e":51.21,"v":95},{"s":"before sputtering","e":51.05,"v":100},{"s":"before sputtering","e":50.89,"v":105},{"s":"before sputtering","e":50.72,"v":110},{"s":"before sputtering","e":50.56,"v":116},{"s":"before sputtering","e":50.4,"v":123},{"s":"before sputtering","e":50.24,"v":131},{"s":"before sputtering","e":50.12,"v":139},{"s":"before sputtering","e":50.02,"v":148},{"s":"before sputtering","e":49.9,"v":158},{"s":"before sputtering","e":49.8,"v":168},{"s":"before sputtering","e":49.72,"v":174},{"s":"before sputtering","e":49.64,"v":178},{"s":"before sputtering","e":49.56,"v":179},{"s":"before sputtering","e":49.48,"v":178},{"s":"before sputtering","e":49.36,"v":177},{"s":"before sputtering","e":49.26,"v":175},{"s":"before sputtering","e":49.15,"v":172},{"s":"before sputtering","e":49.05,"v":168},{"s":"before sputtering","e":48.94,"v":158},{"s":"before sputtering","e":48.83,"v":148},{"s":"before sputtering","e":48.72,"v":136},{"s":"before sputtering","e":48.61,"v":125},{"s":"before sputtering","e":48.5,"v":114},{"s":"before sputtering","e":48.4,"v":105},{"s":"before sputtering","e":48.29,"v":96},{"s":"before sputtering","e":48.18,"v":88},{"s":"before sputtering","e":48.07,"v":81},{"s":"before sputtering","e":47.96,"v":75},{"s":"before sputtering","e":47.83,"v":70},{"s":"before sputtering","e":47.69,"v":65},{"s":"before sputtering","e":47.55,"v":61},{"s":"before sputtering","e":47.42,"v":58},{"s":"before sputtering","e":47.25,"v":54},{"s":"before sputtering","e":47.1,"v":50},{"s":"before sputtering","e":46.95,"v":46},{"s":"before sputtering","e":46.77,"v":43},{"s":"before sputtering","e":46.55,"v":39},{"s":"before sputtering","e":46.33,"v":36},{"s":"before sputtering","e":46.1,"v":33},{"s":"before sputtering","e":45.9,"v":30},{"s":"before sputtering","e":45.6,"v":29},{"s":"before sputtering","e":45.25,"v":28},{"s":"before sputtering","e":44.8,"v":27},{"s":"before sputtering","e":44.38,"v":26},{"s":"before sputtering","e":43.95,"v":26},{"s":"before sputtering","e":43.51,"v":26},{"s":"before sputtering","e":43.1,"v":25},{"s":"before sputtering","e":42.65,"v":25},{"s":"before sputtering","e":42.3,"v":24},{"s":"before sputtering","e":42.05,"v":24},{"s":"before sputtering","e":42,"v":24},
{"s":"after sputtering for 700s","e":58,"v":72},{"s":"after sputtering for 700s","e":57.93,"v":71},{"s":"after sputtering for 700s","e":57.75,"v":70},{"s":"after sputtering for 700s","e":57.6,"v":70},{"s":"after sputtering for 700s","e":57.45,"v":68},{"s":"after sputtering for 700s","e":57.28,"v":67},{"s":"after sputtering for 700s","e":57.1,"v":70},{"s":"after sputtering for 700s","e":56.96,"v":69},{"s":"after sputtering for 700s","e":56.8,"v":67},{"s":"after sputtering for 700s","e":56.63,"v":66},{"s":"after sputtering for 700s","e":56.45,"v":64},{"s":"after sputtering for 700s","e":56.3,"v":63},{"s":"after sputtering for 700s","e":56.15,"v":66},{"s":"after sputtering for 700s","e":55.98,"v":65},{"s":"after sputtering for 700s","e":55.8,"v":64},{"s":"after sputtering for 700s","e":55.66,"v":66},{"s":"after sputtering for 700s","e":55.5,"v":68},{"s":"after sputtering for 700s","e":55.33,"v":70},{"s":"after sputtering for 700s","e":55.15,"v":71},{"s":"after sputtering for 700s","e":55,"v":73},{"s":"after sputtering for 700s","e":54.8,"v":74},{"s":"after sputtering for 700s","e":54.57,"v":76},{"s":"after sputtering for 700s","e":54.35,"v":77},{"s":"after sputtering for 700s","e":54.14,"v":78},{"s":"after sputtering for 700s","e":53.95,"v":77},{"s":"after sputtering for 700s","e":53.71,"v":79},{"s":"after sputtering for 700s","e":53.5,"v":78},{"s":"after sputtering for 700s","e":53.27,"v":78},{"s":"after sputtering for 700s","e":53.05,"v":77},{"s":"after sputtering for 700s","e":52.84,"v":75},{"s":"after sputtering for 700s","e":52.65,"v":76},{"s":"after sputtering for 700s","e":52.51,"v":74},{"s":"after sputtering for 700s","e":52.35,"v":76},{"s":"after sputtering for 700s","e":52.19,"v":78},{"s":"after sputtering for 700s","e":52,"v":79},{"s":"after sputtering for 700s","e":51.76,"v":81},{"s":"after sputtering for 700s","e":51.6,"v":83},{"s":"after sputtering for 700s","e":51.43,"v":86},{"s":"after sputtering for 700s","e":51.25,"v":90},{"s":"after sputtering for 700s","e":51.1,"v":95},{"s":"after sputtering for 700s","e":50.95,"v":100},{"s":"after sputtering for 700s","e":50.78,"v":105},{"s":"after sputtering for 700s","e":50.6,"v":110},{"s":"after sputtering for 700s","e":50.46,"v":115},{"s":"after sputtering for 700s","e":50.3,"v":120},{"s":"after sputtering for 700s","e":50.13,"v":126},{"s":"after sputtering for 700s","e":49.95,"v":133},{"s":"after sputtering for 700s","e":49.8,"v":141},{"s":"after sputtering for 700s","e":49.59,"v":148},{"s":"after sputtering for 700s","e":49.4,"v":152},{"s":"after sputtering for 700s","e":49.26,"v":158},{"s":"after sputtering for 700s","e":49.15,"v":162},{"s":"after sputtering for 700s","e":49.05,"v":168},{"s":"after sputtering for 700s","e":48.95,"v":172},{"s":"after sputtering for 700s","e":48.83,"v":178},{"s":"after sputtering for 700s","e":48.72,"v":186},{"s":"after sputtering for 700s","e":48.61,"v":195},{"s":"after sputtering for 700s","e":48.5,"v":200},{"s":"after sputtering for 700s","e":48.4,"v":205},{"s":"after sputtering for 700s","e":48.3,"v":214},{"s":"after sputtering for 700s","e":48.18,"v":225},{"s":"after sputtering for 700s","e":48.1,"v":233},{"s":"after sputtering for 700s","e":48.02,"v":241},{"s":"after sputtering for 700s","e":47.93,"v":250},{"s":"after sputtering for 700s","e":47.85,"v":256},{"s":"after sputtering for 700s","e":47.75,"v":257},{"s":"after sputtering for 700s","e":47.69,"v":255},{"s":"after sputtering for 700s","e":47.6,"v":258},{"s":"after sputtering for 700s","e":47.53,"v":258},{"s":"after sputtering for 700s","e":47.42,"v":255},{"s":"after sputtering for 700s","e":47.31,"v":250},{"s":"after sputtering for 700s","e":47.2,"v":242},{"s":"after sputtering for 700s","e":47.1,"v":231},{"s":"after sputtering for 700s","e":47,"v":221},{"s":"after sputtering for 700s","e":46.88,"v":208},{"s":"after sputtering for 700s","e":46.77,"v":194},{"s":"after sputtering for 700s","e":46.66,"v":178},{"s":"after sputtering for 700s","e":46.55,"v":161},{"s":"after sputtering for 700s","e":46.45,"v":145},{"s":"after sputtering for 700s","e":46.34,"v":130},{"s":"after sputtering for 700s","e":46.23,"v":115},{"s":"after sputtering for 700s","e":46.12,"v":101},{"s":"after sputtering for 700s","e":46.01,"v":88},{"s":"after sputtering for 700s","e":45.9,"v":75},{"s":"after sputtering for 700s","e":45.79,"v":63},{"s":"after sputtering for 700s","e":45.68,"v":56},{"s":"after sputtering for 700s","e":45.58,"v":51},{"s":"after sputtering for 700s","e":45.4,"v":45},{"s":"after sputtering for 700s","e":45.25,"v":41},{"s":"after sputtering for 700s","e":45.05,"v":36},{"s":"after sputtering for 700s","e":44.82,"v":33},{"s":"after sputtering for 700s","e":44.6,"v":31},{"s":"after sputtering for 700s","e":44.38,"v":30},{"s":"after sputtering for 700s","e":44.15,"v":29},{"s":"after sputtering for 700s","e":43.95,"v":28},{"s":"after sputtering for 700s","e":43.6,"v":28},{"s":"after sputtering for 700s","e":43.3,"v":27},{"s":"after sputtering for 700s","e":43,"v":27},{"s":"after sputtering for 700s","e":42.65,"v":26},{"s":"after sputtering for 700s","e":42.35,"v":26},{"s":"after sputtering for 700s","e":42.05,"v":25},{"s":"after sputtering for 700s","e":42,"v":25}
]
},
"title":{"text":"Binding energy / eV","orient":"bottom","offset":26,"baseline":"top","anchor":"middle"},
"vconcat":[{
"title":{"text":"Intensity / a.u.","orient":"left","offset":16,"anchor":"middle","dx":-11},
"columns":2,"bounds":"flush","spacing":{"row":92,"column":150},
"resolve":{"scale":{"color":"independent"},"legend":{"color":"independent"}},
"concat":[
{"width":495,"height":301,
"title":{"text":"LiCo₀.₁₂Ti₀.₈₈MnO₄","offset":17,"baseline":"alphabetic","frame":"group","fontSize":24},
"resolve":{"axis":{"x":"independent"}},
"layer":[
{"data":{"name":"co"},"mark":{"type":"line","strokeWidth":2,"clip":true},
"encoding":{"x":{"field":"e","type":"quantitative","scale":{"domain":[794,774],"nice":false,"zero":false},"axis":{"orient":"bottom","values":[790,785,780,775],"tickSize":-11,"labelPadding":23}},
"y":{"field":"v","type":"quantitative","scale":{"domain":[0,301],"nice":false,"zero":false},"axis":{"ticks":false,"labels":false}},
"color":{"field":"s","type":"nominal","sort":null,"scale":{"domain":["0 s","1 s","20 s","30 s","40 s","50 s","1 min","5 min","10 min","20 min","30 min"],"range":["#ff0000","#2e5c9a","#ffc000","#2fba5a","#6d5fa6","#a5a5a5","#ff6f6f","#5b9bd5","#c8641c","#17a08c","#7667d0"]},"legend":null}}},
{"data":{"values":[{"e":785.76,"v":11,"v2":30}]},"mark":{"type":"rule","color":"#ff0000","strokeWidth":3},
"encoding":{"x":{"field":"e","type":"quantitative","axis":{"orient":"bottom","values":[774,775,776,777,778,779,780,781,782,783,784,785,786,787,788,789,790,791,792,793,794],"tickSize":-6,"labels":false,"domain":false}},"y":{"field":"v","type":"quantitative","axis":null},"y2":{"field":"v2"}}},
{"data":{"values":[{"e":785.76,"v":36}]},"mark":{"type":"point","shape":"M0,-1L0.7,0.7L-0.7,0.7Z","filled":true,"color":"#ff0000","size":400,"opacity":1},
"encoding":{"x":{"field":"e","type":"quantitative","axis":null},"y":{"field":"v","type":"quantitative","axis":null}}},
{"data":{"values":[{"e":793.52,"v":246,"t":"Co 2p"}]},"mark":{"type":"text","align":"left","baseline":"alphabetic","fontSize":26,"fontWeight":"bold","color":"#0a0af0"},
"encoding":{"x":{"field":"e","type":"quantitative","axis":null},"y":{"field":"v","type":"quantitative","axis":null},"text":{"field":"t"}}},
{"data":{"values":[{"e":790.53,"v":239,"t":"3/2"}]},"mark":{"type":"text","align":"left","baseline":"alphabetic","fontSize":17,"fontWeight":"bold","color":"#0a0af0"},
"encoding":{"x":{"field":"e","type":"quantitative","axis":null},"y":{"field":"v","type":"quantitative","axis":null},"text":{"field":"t"}}}
]},
{"width":493,"height":301,
"title":{"text":"ZrF₄ coated LiNi₀.₅Mn₁.₅O₄","offset":17,"baseline":"alphabetic","frame":"group","fontSize":24},
"resolve":{"axis":{"x":"independent"}},
"layer":[
{"data":{"name":"mn3s"},"mark":{"type":"line","strokeWidth":2,"clip":true},
"encoding":{"x":{"field":"e","type":"quantitative","scale":{"domain":[95,75],"nice":false,"zero":false},"axis":{"orient":"bottom","values":[95,90,85,80,75],"tickSize":-11,"labelPadding":23}},
"y":{"field":"v","type":"quantitative","scale":{"domain":[0,301],"nice":false,"zero":false},"axis":{"ticks":false,"labels":false}},
"color":{"field":"s","type":"nominal","sort":null,"scale":{"domain":["before sputtering","after sputtering for 700s"],"range":["#ff1414","#2f5f9c"]},
"legend":{"orient":"none","legendX":4,"legendY":6,"title":null,"symbolType":"stroke","symbolSize":1089,"symbolStrokeWidth":2.5,"labelFontSize":20,"labelFontWeight":"bold","labelColor":"#000","clipHeight":20,"rowPadding":7,"labelOffset":7,"padding":0,"labelLimit":400}}}},
{"data":{"values":[{"e":88.2,"v":8,"v2":243},{"e":84.14,"v":8,"v2":243},{"e":82.37,"v":8,"v2":243}]},"mark":{"type":"rule","color":"#666666","strokeWidth":1.2,"strokeDash":[4,3]},
"encoding":{"x":{"field":"e","type":"quantitative","axis":{"orient":"bottom","values":[75,76,77,78,79,80,81,82,83,84,85,86,87,88,89,90,91,92,93,94,95],"tickSize":-6,"labels":false,"domain":false}},"y":{"field":"v","type":"quantitative","axis":null},"y2":{"field":"v2"}}},
{"data":{"values":[{"e":82.41,"e2":83.56,"v":203}]},"mark":{"type":"rule","color":"#ff0000","strokeWidth":3},
"encoding":{"x":{"field":"e","type":"quantitative","axis":null},"x2":{"field":"e2"},"y":{"field":"v","type":"quantitative","axis":null}}},
{"data":{"values":[{"e":83.72,"v":203}]},"mark":{"type":"point","shape":"M-1,0L0.8,0.65L0.8,-0.65Z","filled":true,"color":"#ff0000","size":400,"opacity":1},
"encoding":{"x":{"field":"e","type":"quantitative","axis":null},"y":{"field":"v","type":"quantitative","axis":null}}},
{"data":{"values":[{"e":83.29,"v":220,"t":"~2 eV"}]},"mark":{"type":"text","align":"center","baseline":"middle","fontSize":20,"fontWeight":"bold","color":"#ff0000"},
"encoding":{"x":{"field":"e","type":"quantitative","axis":null},"y":{"field":"v","type":"quantitative","axis":null},"text":{"field":"t"}}},
{"data":{"values":[{"e":80.25,"v":243,"t":"Mn 3s"}]},"mark":{"type":"text","align":"left","baseline":"alphabetic","fontSize":26,"fontWeight":"bold","color":"#1a1ad2"},
"encoding":{"x":{"field":"e","type":"quantitative","axis":null},"y":{"field":"v","type":"quantitative","axis":null},"text":{"field":"t"}}}
]},
{"width":495,"height":299,
"resolve":{"axis":{"x":"independent"}},
"layer":[
{"data":{"name":"mn2p"},"mark":{"type":"line","strokeWidth":2,"clip":true},
"encoding":{"x":{"field":"e","type":"quantitative","scale":{"domain":[652,633],"nice":false,"zero":false},"axis":{"orient":"bottom","values":[650,645,640,635],"tickSize":-11,"labelPadding":23}},
"y":{"field":"v","type":"quantitative","scale":{"domain":[0,299],"nice":false,"zero":false},"axis":{"ticks":false,"labels":false}},
"color":{"field":"s","type":"nominal","sort":null,"scale":{"domain":["0 s","1 s","20 s","30 s","40 s","50 s","1 min","5 min","10 min","20 min","30 min"],"range":["#ff0000","#2e5c9a","#ffc000","#2fba5a","#6d5fa6","#a5a5a5","#ff6f6f","#5b9bd5","#c8641c","#17a08c","#7667d0"]},
"legend":{"orient":"none","legendX":389,"legendY":-12,"title":null,"symbolType":"stroke","symbolSize":1444,"symbolStrokeWidth":3,"labelFontSize":17,"labelFontWeight":"bold","labelColor":"#000","clipHeight":17,"rowPadding":5.7,"labelOffset":5,"padding":0}}}},
{"data":{"values":[{"e":640.98,"e2":639.45,"v":285}]},"mark":{"type":"rule","color":"#ff0000","strokeWidth":3},
"encoding":{"x":{"field":"e","type":"quantitative","axis":{"orient":"bottom","values":[633,634,635,636,637,638,639,640,641,642,643,644,645,646,647,648,649,650,651,652],"tickSize":-6,"labels":false,"domain":false}},"x2":{"field":"e2"},"y":{"field":"v","type":"quantitative","axis":null}}},
{"data":{"values":[{"e":639.26,"v":285}]},"mark":{"type":"point","shape":"M1,0L-0.8,0.6L-0.8,-0.6Z","filled":true,"color":"#ff0000","size":400,"opacity":1},
"encoding":{"x":{"field":"e","type":"quantitative","axis":null},"y":{"field":"v","type":"quantitative","axis":null}}},
{"data":{"values":[{"e":651.47,"v":243,"t":"Mn 2p"}]},"mark":{"type":"text","align":"left","baseline":"alphabetic","fontSize":26,"fontWeight":"bold","color":"#0a0af0"},
"encoding":{"x":{"field":"e","type":"quantitative","axis":null},"y":{"field":"v","type":"quantitative","axis":null},"text":{"field":"t"}}},
{"data":{"values":[{"e":648.55,"v":236,"t":"3/2"}]},"mark":{"type":"text","align":"left","baseline":"alphabetic","fontSize":17,"fontWeight":"bold","color":"#0a0af0"},
"encoding":{"x":{"field":"e","type":"quantitative","axis":null},"y":{"field":"v","type":"quantitative","axis":null},"text":{"field":"t"}}}
]},
{"width":493,"height":299,
"resolve":{"axis":{"x":"independent"}},
"layer":[
{"data":{"name":"mn3p"},"mark":{"type":"line","strokeWidth":2,"clip":true},
"encoding":{"x":{"field":"e","type":"quantitative","scale":{"domain":[58,42],"nice":false,"zero":false},"axis":{"orient":"bottom","values":[58,56,54,52,50,48,46,44,42],"tickSize":-11,"labelPadding":23}},
"y":{"field":"v","type":"quantitative","scale":{"domain":[0,299],"nice":false,"zero":false},"axis":{"ticks":false,"labels":false}},
"color":{"field":"s","type":"nominal","sort":null,"scale":{"domain":["before sputtering","after sputtering for 700s"],"range":["#ff1414","#2f5f9c"]},"legend":null}}},
{"data":{"values":[{"e":49.61,"v":23,"v2":293},{"e":47.64,"v":23,"v2":293}]},"mark":{"type":"rule","color":"#666666","strokeWidth":1.2,"strokeDash":[4,3]},
"encoding":{"x":{"field":"e","type":"quantitative","axis":{"orient":"bottom","values":[42,43,44,45,46,47,48,49,50,51,52,53,54,55,56,57,58],"tickSize":-6,"labels":false,"domain":false}},"y":{"field":"v","type":"quantitative","axis":null},"y2":{"field":"v2"}}},
{"data":{"values":[{"e":47.75,"e2":49.15,"v":266}]},"mark":{"type":"rule","color":"#ff0000","strokeWidth":3},
"encoding":{"x":{"field":"e","type":"quantitative","axis":null},"x2":{"field":"e2"},"y":{"field":"v","type":"quantitative","axis":null}}},
{"data":{"values":[{"e":49.26,"v":266}]},"mark":{"type":"point","shape":"M-1,0L0.8,0.65L0.8,-0.65Z","filled":true,"color":"#ff0000","size":400,"opacity":1},
"encoding":{"x":{"field":"e","type":"quantitative","axis":null},"y":{"field":"v","type":"quantitative","axis":null}}},
{"data":{"values":[{"e":48.61,"v":291,"t":"~2 eV"}]},"mark":{"type":"text","align":"center","baseline":"middle","fontSize":20,"fontWeight":"bold","color":"#ff0000"},
"encoding":{"x":{"field":"e","type":"quantitative","axis":null},"y":{"field":"v","type":"quantitative","axis":null},"text":{"field":"t"}}},
{"data":{"values":[{"e":46.17,"v":241,"t":"Mn 3p"},{"e":54.79,"v":106,"t":"Li 1s"}]},"mark":{"type":"text","align":"left","baseline":"alphabetic","fontSize":26,"fontWeight":"bold","color":"#1a1ad2"},
"encoding":{"x":{"field":"e","type":"quantitative","axis":null},"y":{"field":"v","type":"quantitative","axis":null},"text":{"field":"t"}}}
]}
]
}]
}
